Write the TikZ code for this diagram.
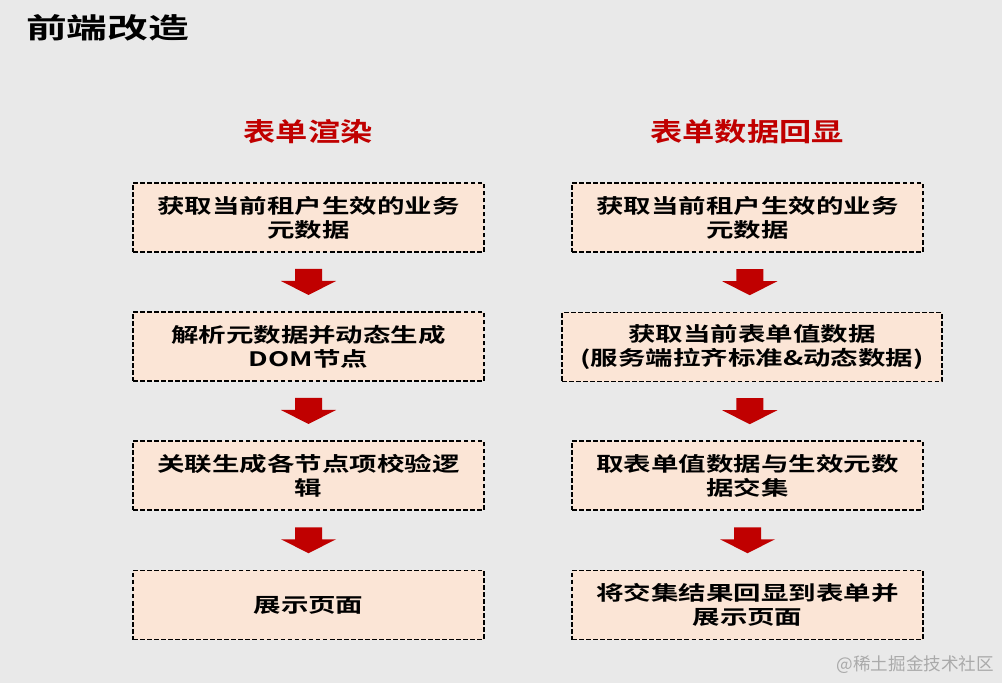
\documentclass[tikz,border=0pt]{standalone}
\usepackage{fontspec}
\usetikzlibrary{calc}
\newfontfamily\bodyfont[FakeStretch=1.38]{Noto Sans CJK SC Bold}
\newfontfamily\headfont[FakeStretch=1.25]{Noto Sans CJK SC Bold}
\newfontfamily\titlefont[FakeStretch=1.45]{Noto Sans CJK SC Bold}
\newfontfamily\markfont{Noto Sans CJK SC}
\definecolor{paper}{RGB}{233,233,233}
\definecolor{peach}{RGB}{251,229,214}
\definecolor{deepred}{RGB}{192,0,0}
\definecolor{markgray}{RGB}{170,170,170}
\tikzset{
  stage/.style={draw=black, line width=1.1pt, dash pattern=on 4pt off 2pt, fill=peach,
    minimum width=10.53cm, minimum height=2.07cm, align=center, inner sep=0pt,
    font=\bodyfont\fontsize{17}{20.4}\selectfont},
  head/.style={text=deepred, font=\headfont\fontsize{22}{26}\selectfont},
  pics/downarrow/.style={code={
    \fill[deepred] (-13.5,-13) -- (13.5,-13) -- (13.5,-1) -- (27.5,-1) -- (0,13)
      -- (-27.5,-1) -- (-13.5,-1) -- cycle;}}
}
\begin{document}
\begin{tikzpicture}[x=0.03cm, y=-0.03cm]
  \fill[paper] (0,0) rectangle (1002,683);
  \useasboundingbox (0,0) rectangle (1002,683);
  \node[anchor=west, font=\titlefont\fontsize{24}{28}\selectfont] (title) at (22,28) {前端改造};
  \node[head] (renderhead) at (308,132) {表单渲染};
  \node[head] (echohead) at (747,132) {表单数据回显};
  \node[stage] (l1) at (308.5,217.5) {获取当前租户生效的业务\\元数据};
  \node[stage] (l2) at (308.5,346.5) {解析元数据并动态生成\\DOM节点};
  \node[stage] (l3) at (308.5,475.5) {关联生成各节点项校验逻\\辑};
  \node[stage] (l4) at (308.5,605) {展示页面};
  \node[stage] (r1) at (747.5,217.5) {获取当前租户生效的业务\\元数据};
  \node[stage, minimum width=11.4cm] (r2) at (752,347) {获取当前表单值数据\\(服务端拉齐标准\&动态数据)};
  \node[stage] (r3) at (747.5,475.5) {取表单值数据与生效元数\\据交集};
  \node[stage] (r4) at (747.5,605) {将交集结果回显到表单并\\展示页面};
  \pic at ($(l1.south)!.5!(l2.north)$) {downarrow};
  \pic at ($(l2.south)!.5!(l3.north)$) {downarrow};
  \pic at ($(l3.south)!.5!(l4.north)$) {downarrow};
  \pic at ($(r1.south)!.5!(r2.north)$) {downarrow};
  \pic at ($(r2.south)!.5!(r3.north)$) {downarrow};
  \pic at ($(r3.south)!.5!(r4.north)$) {downarrow};
  \node[anchor=east, text=markgray, font=\markfont\fontsize{15}{18}\selectfont] (mark) at (998,665) {@稀土掘金技术社区};
\end{tikzpicture}
\end{document}
